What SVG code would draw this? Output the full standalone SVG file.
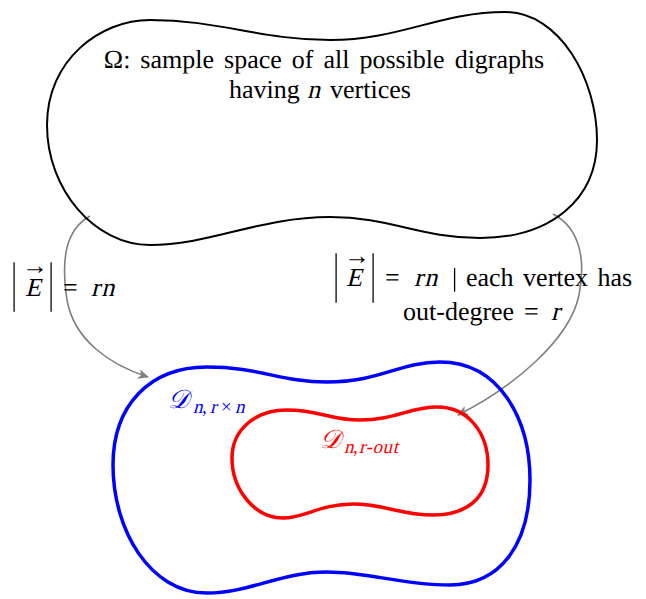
<svg xmlns="http://www.w3.org/2000/svg" width="646" height="599" viewBox="0 0 646 599">
<style>
text{font-family:"Liberation Serif","Times New Roman",serif;font-size:26px;fill:#000;text-rendering:geometricPrecision}
.blob{fill:none;stroke-linejoin:round}
.conn{fill:none;stroke:#808080;stroke-width:1.6}
.scr{font-family:"DejaVu Serif","Noto Sans","DejaVu Sans",serif;font-style:italic}
.sub{font-size:19px}
</style>
<defs>
<marker id="ah" viewBox="0 0 12 10" refX="10" refY="5" markerWidth="12" markerHeight="10" markerUnits="userSpaceOnUse" orient="auto">
<path d="M0,0 L11,5 L0,10 L3,5 Z" fill="#808080"/>
</marker>
<filter id="gray" filterUnits="userSpaceOnUse" x="0" y="0" width="646" height="599">
<feOffset dx="0" dy="0"/>
</filter>
</defs>
<rect width="646" height="599" fill="#fff"/>
<g id="connectors">
<path class="conn" d="M90,216 C65,230 61,260 67,300 C74,340 110,365 148,377" marker-end="url(#ah)"/>
<path class="conn" d="M553,214 C580,228 586,260 579,295 C570,340 512,388 458,415" marker-end="url(#ah)"/>
</g>
<g id="omega">
<path class="blob" stroke="#000" stroke-width="2" d="M47,125 C47,60 100,20 150,20 C220,20 260,40 330,40 C400,40 440,12 505,12 C560,12 597,80 597,140 C597,200 550,238 480,238 C420,238 390,217 330,217 C260,217 210,245 150,245 C95,245 47,190 47,125 Z"/>
<text x="324" y="68" text-anchor="middle" word-spacing="3.5">Ω: sample space of all possible digraphs</text>
<text x="229" y="98">having</text>
<text transform="translate(307,98) skewX(-14)">n</text>
<text x="330" y="98">vertices</text>
</g>
<g id="drxn" style="fill:#0000ff">
<path class="blob" stroke="#0000ff" stroke-width="3.5" d="M113,465 C113,405 150,367 207,367 C260,367 280,382 327,382 C380,382 400,362 440,362 C500,362 530,420 530,480 C530,545 500,585 450,585 C400,585 370,572 327,572 C280,572 250,593 207,593 C150,593 113,530 113,465 Z"/>
<text class="scr" x="168" y="408" style="fill:#0000ff" font-size="24">𝒟</text>
<text class="sub" transform="translate(193,413) skewX(-14)" style="fill:#0000ff">n</text>
<text class="sub" x="202" y="413" style="fill:#0000ff">,</text>
<text class="sub" transform="translate(210,413) skewX(-14)" style="fill:#0000ff">r</text>
<text class="sub" x="221" y="413" style="fill:#0000ff">×</text>
<text class="sub" transform="translate(235,413) skewX(-14)" style="fill:#0000ff">n</text>
</g>
<g id="drout">
<path class="blob" stroke="#ff0000" stroke-width="3.5" d="M232,458 C232,430 255,410 287,410 C320,410 330,420 360,420 C395,420 410,407 437,407 C470,407 488,435 488,465 C488,500 465,515 433,515 C400,515 385,504 353,504 C320,504 305,518 283,518 C255,518 232,490 232,458 Z"/>
<text class="scr" x="320" y="448" style="fill:#ff0000" font-size="24">𝒟</text>
<text class="sub" transform="translate(344,453) skewX(-14)" style="fill:#ff0000">n</text>
<text class="sub" x="353" y="453" style="fill:#ff0000">,</text>
<text class="sub" transform="translate(359,453) skewX(-14)" style="fill:#ff0000" letter-spacing="0.6">r-out</text>
</g>
<g id="label-left">
<g filter="url(#gray)">
<text transform="translate(14,299.5) scale(1,2.1)" text-anchor="middle">|</text>
<text transform="translate(51,299.5) scale(1,2.1)" text-anchor="middle">|</text>
</g>
<text transform="translate(25,296) skewX(-14)">E</text>
<text x="35" y="274" font-size="20" text-anchor="middle">→</text>
<text x="63" y="296">=</text>
<text transform="translate(91,296) skewX(-14)" letter-spacing="1.5">rn</text>
</g>
<g id="label-right">
<g filter="url(#gray)">
<text transform="translate(336,290.5) scale(1,2.1)" text-anchor="middle">|</text>
<text transform="translate(373,290.5) scale(1,2.1)" text-anchor="middle">|</text>
<text x="452" y="286">|</text>
</g>
<text transform="translate(346,286) skewX(-14)">E</text>
<text x="357" y="264" font-size="20" text-anchor="middle">→</text>
<text x="385" y="286">=</text>
<text transform="translate(414,286) skewX(-14)" letter-spacing="1.5">rn</text>
<text x="466" y="286" word-spacing="3">each vertex has</text>
<text x="403" y="320">out-degree</text>
<text x="524" y="320">=</text>
<text transform="translate(551,320) skewX(-14)">r</text>
</g>
</svg>
